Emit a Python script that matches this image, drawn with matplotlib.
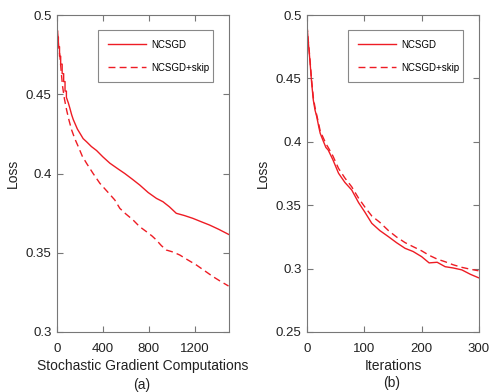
import matplotlib.pyplot as plt

plt.rcParams["font.family"] = ["Liberation Sans", "DejaVu Sans"]

# (a) loss vs stochastic gradient computations
sgc_x = [0, 6, 6, 12, 12, 22, 22, 32, 32, 45, 45, 58, 58, 70, 70, 82, 82, 99, 113,
         128, 142, 157, 178, 200, 228, 258, 300, 345, 400, 461, 530, 591, 655, 722,
         795, 867, 924, 980, 1040, 1110, 1185, 1260, 1330, 1410, 1496]
sgc_ncsgd = [0.490, 0.490, 0.486, 0.486, 0.480, 0.480, 0.474, 0.474, 0.469, 0.469,
             0.463, 0.463, 0.458, 0.458, 0.452, 0.452, 0.448, 0.4445, 0.441, 0.437,
             0.434, 0.4315, 0.428, 0.4254, 0.422, 0.420, 0.417, 0.4145, 0.4105,
             0.4065, 0.403, 0.400, 0.3965, 0.3927, 0.388, 0.3843, 0.3822, 0.379,
             0.3749, 0.3735, 0.3717, 0.3695, 0.3675, 0.3648, 0.3616]

skip_x = [0, 8, 15, 26, 38, 49, 65, 84, 105, 128, 155, 186, 220, 258, 315, 374,
          440, 504, 548, 600, 663, 720, 780, 830, 867, 910, 954, 1010, 1070, 1140,
          1215, 1290, 1359, 1430, 1496]
skip_ncsgd = [0.490, 0.486, 0.480, 0.4737, 0.463, 0.4548, 0.447, 0.440, 0.4335,
              0.4274, 0.422, 0.4169, 0.411, 0.4064, 0.400, 0.3938, 0.3885, 0.3833,
              0.378, 0.3745, 0.3707, 0.3665, 0.3633, 0.3605, 0.358, 0.3545, 0.3517,
              0.3505, 0.3486, 0.3455, 0.3423, 0.3385, 0.335, 0.3318, 0.329]

# (b) loss vs iterations
it_x = [0, 2, 5, 8, 11, 14, 17, 20, 23, 28, 33, 37, 45, 55, 66, 78, 90, 101, 113,
        127, 142, 156, 171, 185, 200, 213, 227, 241, 255, 270, 285, 299]
it_ncsgd = [0.492, 0.480, 0.4645, 0.447, 0.433, 0.425, 0.4198, 0.413, 0.4067, 0.401,
            0.3955, 0.3935, 0.386, 0.3752, 0.368, 0.362, 0.352, 0.3445, 0.3357,
            0.3300, 0.3252, 0.3205, 0.316, 0.3135, 0.3094, 0.3045, 0.3050, 0.3015,
            0.3005, 0.2990, 0.2955, 0.2928]
it_skip = [0.492, 0.481, 0.466, 0.449, 0.435, 0.427, 0.421, 0.415, 0.4085, 0.4035,
           0.3985, 0.3955, 0.389, 0.379, 0.3715, 0.3645, 0.3555, 0.3485, 0.3415,
           0.3365, 0.3300, 0.3250, 0.3205, 0.3173, 0.3140, 0.3105, 0.3075, 0.3054,
           0.3030, 0.3010, 0.2995, 0.2983]

RED = "#ee1c24"
TXT = "#222222"


def style(ax):
    for s in ax.spines.values():
        s.set_color("#777777")
        s.set_linewidth(0.8)
    ax.tick_params(direction="in", top=True, right=True, length=4,
                   colors="#777777", labelcolor=TXT, labelsize=9.5)
    ax.tick_params(axis="x", pad=8)
    ax.tick_params(axis="y", pad=4)


def add_legend(ax):
    leg = ax.legend(loc="upper left", bbox_to_anchor=(0.238, 0.785, 0.669, 0.168),
                    mode="expand", fancybox=False, edgecolor="#888888", fontsize=7,
                    handlelength=3.9, handletextpad=0.6, borderpad=1.0,
                    labelspacing=1.35, borderaxespad=0, framealpha=1)
    leg.get_frame().set_linewidth(0.8)


fig = plt.figure(figsize=(4.9, 3.92), dpi=100)

ax1 = fig.add_axes([57 / 490, 60 / 392, 172 / 490, 317 / 392])
ax1.plot(sgc_x, sgc_ncsgd, color=RED, lw=1.0, label="NCSGD")
ax1.plot(skip_x, skip_ncsgd, color=RED, lw=1.0, ls=(0, (5, 3)), label="NCSGD+skip")
ax1.set_xlim(0, 1500)
ax1.set_ylim(0.3, 0.5)
ax1.set_xticks([0, 400, 800, 1200])
ax1.set_yticks([0.3, 0.35, 0.4, 0.45, 0.5])
ax1.set_yticklabels(["0.3", "0.35", "0.4", "0.45", "0.5"])
ax1.set_xlabel("Stochastic Gradient Computations", fontsize=10, labelpad=3,
               color=TXT)
ax1.set_ylabel("Loss", fontsize=10, labelpad=4, color=TXT)
style(ax1)
add_legend(ax1)

ax2 = fig.add_axes([307 / 490, 60 / 392, 172 / 490, 317 / 392])
ax2.plot(it_x, it_ncsgd, color=RED, lw=1.0, label="NCSGD")
ax2.plot(it_x, it_skip, color=RED, lw=1.0, ls=(0, (5, 3)), label="NCSGD+skip")
ax2.set_xlim(0, 300)
ax2.set_ylim(0.25, 0.5)
ax2.set_xticks([0, 100, 200, 300])
ax2.set_yticks([0.25, 0.3, 0.35, 0.4, 0.45, 0.5])
ax2.set_yticklabels(["0.25", "0.3", "0.35", "0.4", "0.45", "0.5"])
ax2.set_xlabel("Iterations", fontsize=10, labelpad=3, color=TXT)
ax2.set_ylabel("Loss", fontsize=10, labelpad=4, color=TXT)
style(ax2)
add_legend(ax2)

fig.text(142 / 490, 1 - 385 / 392, "(a)", ha="center", va="center", fontsize=10,
         color=TXT)
fig.text(392 / 490, 1 - 383 / 392, "(b)", ha="center", va="center", fontsize=10,
         color=TXT)

fig.savefig("out.png", dpi=100)
